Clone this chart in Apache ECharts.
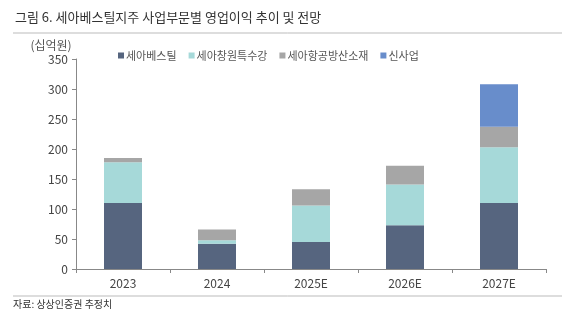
<!DOCTYPE html>
<html>
<head>
<meta charset="utf-8">
<script src="https://cdn.jsdelivr.net/npm/echarts@6/dist/echarts.min.js"></script>
<style>
  html, body { margin: 0; padding: 0; background: #fff; }
  #chart { width: 575px; height: 325px; }
</style>
</head>
<body>
<div id="chart"></div>
<script>
// 연도별 카테고리
const categories = ["2023", "2024", "2025E", "2026E", "2027E"];
// 사업부문별 영업이익 (십억원)
const seahBesteel = [110, 42, 45, 73, 110];
const seahChangwon = [68, 6, 61, 68, 93];
const seahAerospace = [7, 18, 27, 31, 34];
const newBusiness = [0, 0, 0, 0, 71];
const seriesNames = ["세아베스틸", "세아창원특수강", "세아항공방산소재", "신사업"];
const colors = ["#56657f", "#a6d9d9", "#a6a6a6", "#688dcb"];

const font = "'Noto Sans CJK KR', 'Noto Sans', sans-serif";

const chart = echarts.init(document.getElementById("chart"));

const options = {
  animation: false,
  textStyle: { fontFamily: font },
  title: {
    text: "그림 6. 세아베스틸지주 사업부문별 영업이익 추이 및 전망",
    left: 10,
    top: 6,
    textStyle: { fontSize: 13, fontWeight: "normal", color: "#333", fontFamily: font },
  },
  grid: {
    left: 76,
    right: 29,
    top: 59,
    bottom: 56,
  },
  legend: {
    left: 113,
    top: 45,
    itemWidth: 6,
    itemHeight: 6,
    itemGap: 12,
    icon: "rect",
    data: seriesNames,
    textStyle: { fontSize: 11, color: "#555", fontFamily: font, padding: [0, 0, 0, -3] },
  },
  xAxis: {
    type: "category",
    data: categories,
    axisLine: { lineStyle: { color: "#888" } },
    axisTick: { show: true, alignWithLabel: false, length: 4, lineStyle: { color: "#888" } },
    axisLabel: { fontSize: 12, color: "#444", margin: 8 },
  },
  yAxis: {
    type: "value",
    name: "(십억원)",
    nameLocation: "end",
    nameGap: 8,
    nameTextStyle: { fontSize: 12, color: "#555", align: "center", padding: [0, 0, 0, -50] },
    min: 0,
    max: 350,
    interval: 50,
    axisLine: { show: true, lineStyle: { color: "#888" } },
    axisTick: { show: true, length: 4, lineStyle: { color: "#888" } },
    splitLine: { show: false },
    axisLabel: { fontSize: 12, color: "#444", margin: 8 },
  },
  series: [
    { name: seriesNames[0], type: "bar", stack: "total", barWidth: 38, data: seahBesteel, itemStyle: { color: colors[0] } },
    { name: seriesNames[1], type: "bar", stack: "total", barWidth: 38, data: seahChangwon, itemStyle: { color: colors[1] } },
    { name: seriesNames[2], type: "bar", stack: "total", barWidth: 38, data: seahAerospace, itemStyle: { color: colors[2] } },
    { name: seriesNames[3], type: "bar", stack: "total", barWidth: 38, data: newBusiness, itemStyle: { color: colors[3] } },
  ],
  graphic: [
    {
      type: "line",
      shape: { x1: 13, y1: 33, x2: 562, y2: 33 },
      style: { stroke: "#bbb", lineWidth: 1 },
    },
    {
      type: "line",
      shape: { x1: 13, y1: 296, x2: 562, y2: 296 },
      style: { stroke: "#bbb", lineWidth: 1 },
    },
    {
      type: "text",
      left: 13,
      top: 299,
      style: { text: "자료: 상상인증권 추정치", fontSize: 10, fill: "#333", fontFamily: font },
    },
  ],
};

chart.setOption(options);

window.addEventListener("resize", () => {
  chart.resize();
});
</script>
</body>
</html>
